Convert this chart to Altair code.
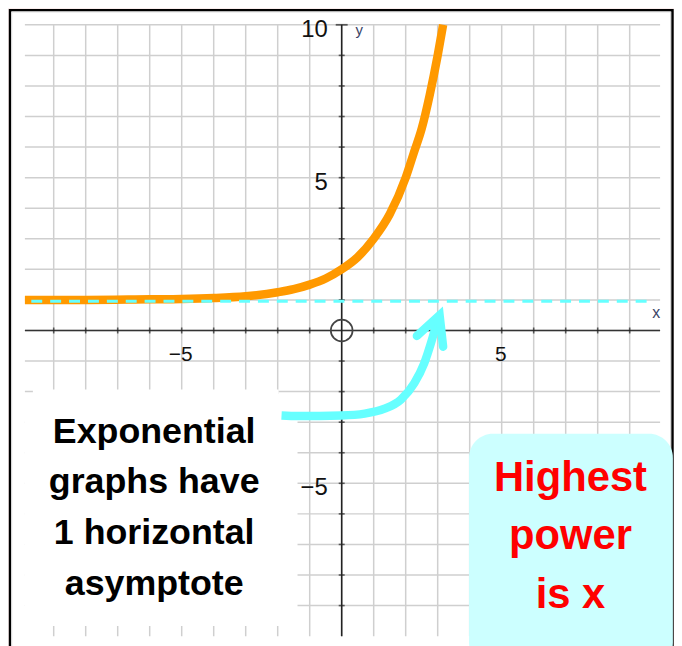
import altair as alt
import pandas as pd

# ---- data ----
curve_x = [-9.9, -8.0, -6.0, -5.0, -4.0, -3.0, -2.0, -1.5, -1.0, -0.5, 0.0, 0.5, 1.0, 1.5, 2.0, 2.25, 2.5, 2.75, 3.0, 3.17]
curve_y = [1.0, 1.0, 1.02, 1.03, 1.06, 1.12, 1.25, 1.35, 1.5, 1.7, 2.0, 2.4, 3.0, 3.8, 5.0, 5.8, 6.6, 7.7, 9.0, 10.0]

asym_x = [-9.7, 9.6]
asym_y = [0.96, 0.96]

grid_x = list(range(-9, 10))
grid_y = list(range(-9, 11))
tick_x = [v for v in range(-9, 10) if v != 0]
tick_y = [v for v in range(-9, 10) if v != 0]

xlabels_val = [-5, 5]
xlabels_txt = ["\u22125", "5"]
ylabels_val = [10, 5, -5]
ylabels_txt = ["10", "5", "\u22125"]

arrow_x = [-1.88, -1.36, -0.01, 0.72, 1.34, 1.85, 2.27, 2.58, 2.79, 2.94, 3.03]
arrow_y = [-2.78, -2.80, -2.78, -2.72, -2.56, -2.26, -1.72, -1.07, -0.41, 0.13, 0.42]
head_x = [2.35, 3.06, 3.17]
head_y = [-0.18, 0.50, -0.53]

note_left = "Exponential\ngraphs have\n1 horizontal\nasymptote"
note_right = "Highest\npower\nis x"

# ---- layout ----
W, H = 639, 615
xs = alt.Scale(domain=[-9.9, 9.95], nice=False, zero=False)
ys = alt.Scale(domain=[-10, 10], nice=False, zero=False)

def X(f):
    return alt.X(f, type="quantitative", scale=xs, axis=None)

def Y(f):
    return alt.Y(f, type="quantitative", scale=ys, axis=None)

one = pd.DataFrame({"a": [0]})

frame = alt.Chart(one).mark_rect(fill="white", stroke="black", strokeWidth=2.4).encode(
    x=alt.value(-15), x2=alt.value(651.5), y=alt.value(-14.7), y2=alt.value(700)
)
frame_inner = alt.Chart(one).mark_rect(fill=None, stroke="#d9d9d9", strokeWidth=1).encode(
    x=alt.value(-13.3), x2=alt.value(649.5), y=alt.value(-13), y2=alt.value(700)
)

gx = alt.Chart(pd.DataFrame({"gx": grid_x})).mark_rule(color="#cfcfcf", strokeWidth=1.5).encode(x=X("gx"))
gy = alt.Chart(pd.DataFrame({"gy": grid_y})).mark_rule(color="#cfcfcf", strokeWidth=1.5).encode(y=Y("gy"))

axes_df = pd.DataFrame({"z": [0]})
ax_x = alt.Chart(axes_df).mark_rule(color="#333333", strokeWidth=1.6).encode(y=Y("z"))
ax_y = alt.Chart(axes_df).mark_rule(color="#222222", strokeWidth=1.6).encode(x=X("z"))

tx = alt.Chart(pd.DataFrame({"tx": tick_x, "z": 0})).mark_tick(
    orient="vertical", size=6, thickness=1.6, color="#222222"
).encode(x=X("tx"), y=Y("z"))
ty = alt.Chart(pd.DataFrame({"ty": tick_y, "z": 0})).mark_tick(
    orient="horizontal", size=6, thickness=1.6, color="#222222"
).encode(x=X("z"), y=Y("ty"))
ttop = alt.Chart(pd.DataFrame({"ty": [10], "z": [0]})).mark_tick(
    orient="horizontal", size=12, thickness=1.8, color="#222222"
).encode(x=X("z"), y=Y("ty"))

xl = alt.Chart(pd.DataFrame({"v": xlabels_val, "t": xlabels_txt, "z": 0})).mark_text(
    font="Liberation Sans", fontSize=21, color="#111111", align="center", baseline="alphabetic", dy=31, dx=-1
).encode(x=X("v"), y=Y("z"), text="t:N")
yl = alt.Chart(pd.DataFrame({"v": ylabels_val, "t": ylabels_txt, "z": 0})).mark_text(
    font="Liberation Sans", fontSize=24, color="#111111", align="right", baseline="alphabetic", dx=-14, dy=12
).encode(x=X("z"), y=Y("v"), text="t:N")

name_y = alt.Chart(pd.DataFrame({"x": [0], "y": [10], "t": ["y"]})).mark_text(
    font="Liberation Sans", fontSize=15, color="#3a4466", align="left", baseline="alphabetic", dx=14, dy=10
).encode(x=X("x"), y=Y("y"), text="t:N")
name_x = alt.Chart(pd.DataFrame({"x": [9.95], "y": [0], "t": ["x"]})).mark_text(
    font="Liberation Sans", fontSize=16, color="#3a4466", align="right", baseline="alphabetic", dy=-13
).encode(x=X("x"), y=Y("y"), text="t:N")

curve = alt.Chart(pd.DataFrame({"x": curve_x, "y": curve_y})).mark_line(
    color="#ff9900", strokeWidth=8.5, interpolate="monotone", strokeCap="butt"
).encode(x=X("x"), y=Y("y"))

asym = alt.Chart(pd.DataFrame({"x": asym_x, "y": asym_y})).mark_line(
    color="#66ffff", strokeWidth=3, strokeDash=[11, 8]
).encode(x=X("x"), y=Y("y"))

origin = alt.Chart(pd.DataFrame({"x": [0], "y": [0]})).mark_point(
    shape="circle", size=480, filled=False, stroke="#444444", strokeWidth=1.7, opacity=1
).encode(x=X("x"), y=Y("y"))

boxes = pd.DataFrame({
    "x1": [-9.65, -9.9], "x2": [-1.97, -1.38],
    "y1": [-1.93, -2.08], "y2": [-9.67, -9.67],
})
white_box = alt.Chart(boxes).mark_rect(fill="white").encode(
    x=X("x1"), x2="x2", y=Y("y1"), y2="y2"
)
cyan_box = alt.Chart(pd.DataFrame({"x1": [3.98], "x2": [10.35], "y1": [-3.38], "y2": [-11.0]})).mark_rect(
    fill="#ccffff", cornerRadius=24
).encode(x=X("x1"), x2="x2", y=Y("y1"), y2="y2")

left_text = alt.Chart(pd.DataFrame({"x": [-5.86], "y": [-3.67], "t": [note_left]})).mark_text(
    font="Liberation Sans", fontSize=36, fontWeight="bold", color="black",
    align="center", baseline="alphabetic", lineBreak="\n", lineHeight=51
).encode(x=X("x"), y=Y("y"), text="t:N")

right_text = alt.Chart(pd.DataFrame({"x": [7.15], "y": [-5.26], "t": [note_right]})).mark_text(
    font="Liberation Sans", fontSize=42, fontWeight="bold", color="#ff0000",
    align="center", baseline="alphabetic", lineBreak="\n", lineHeight=58.5
).encode(x=X("x"), y=Y("y"), text="t:N")

arrow = alt.Chart(pd.DataFrame({"x": arrow_x, "y": arrow_y, "o": list(range(len(arrow_x)))})).mark_line(
    color="#66ffff", strokeWidth=8.5, interpolate="monotone", strokeCap="butt"
).encode(x=X("x"), y=Y("y"), order="o:Q")

head = alt.Chart(pd.DataFrame({"x": head_x, "y": head_y, "o": [0, 1, 2]})).mark_line(
    color="#66ffff", strokeWidth=8.5, strokeCap="round", strokeJoin="miter"
).encode(x=X("x"), y=Y("y"), order="o:Q")

chart = alt.layer(
    frame, frame_inner, gx, gy, ax_x, ax_y, tx, ty, ttop, xl, yl, name_y, name_x,
    curve, asym, origin, white_box, cyan_box, left_text, right_text, arrow, head
).properties(
    width=W, height=H,
    autosize=alt.AutoSizeParams(type="none"),
    padding={"left": 17, "top": 15, "right": 14, "bottom": 8},
).configure(background="#faeeee").configure_view(stroke=None)

chart.save("out.html", embed_options={"renderer": "svg", "actions": False})
